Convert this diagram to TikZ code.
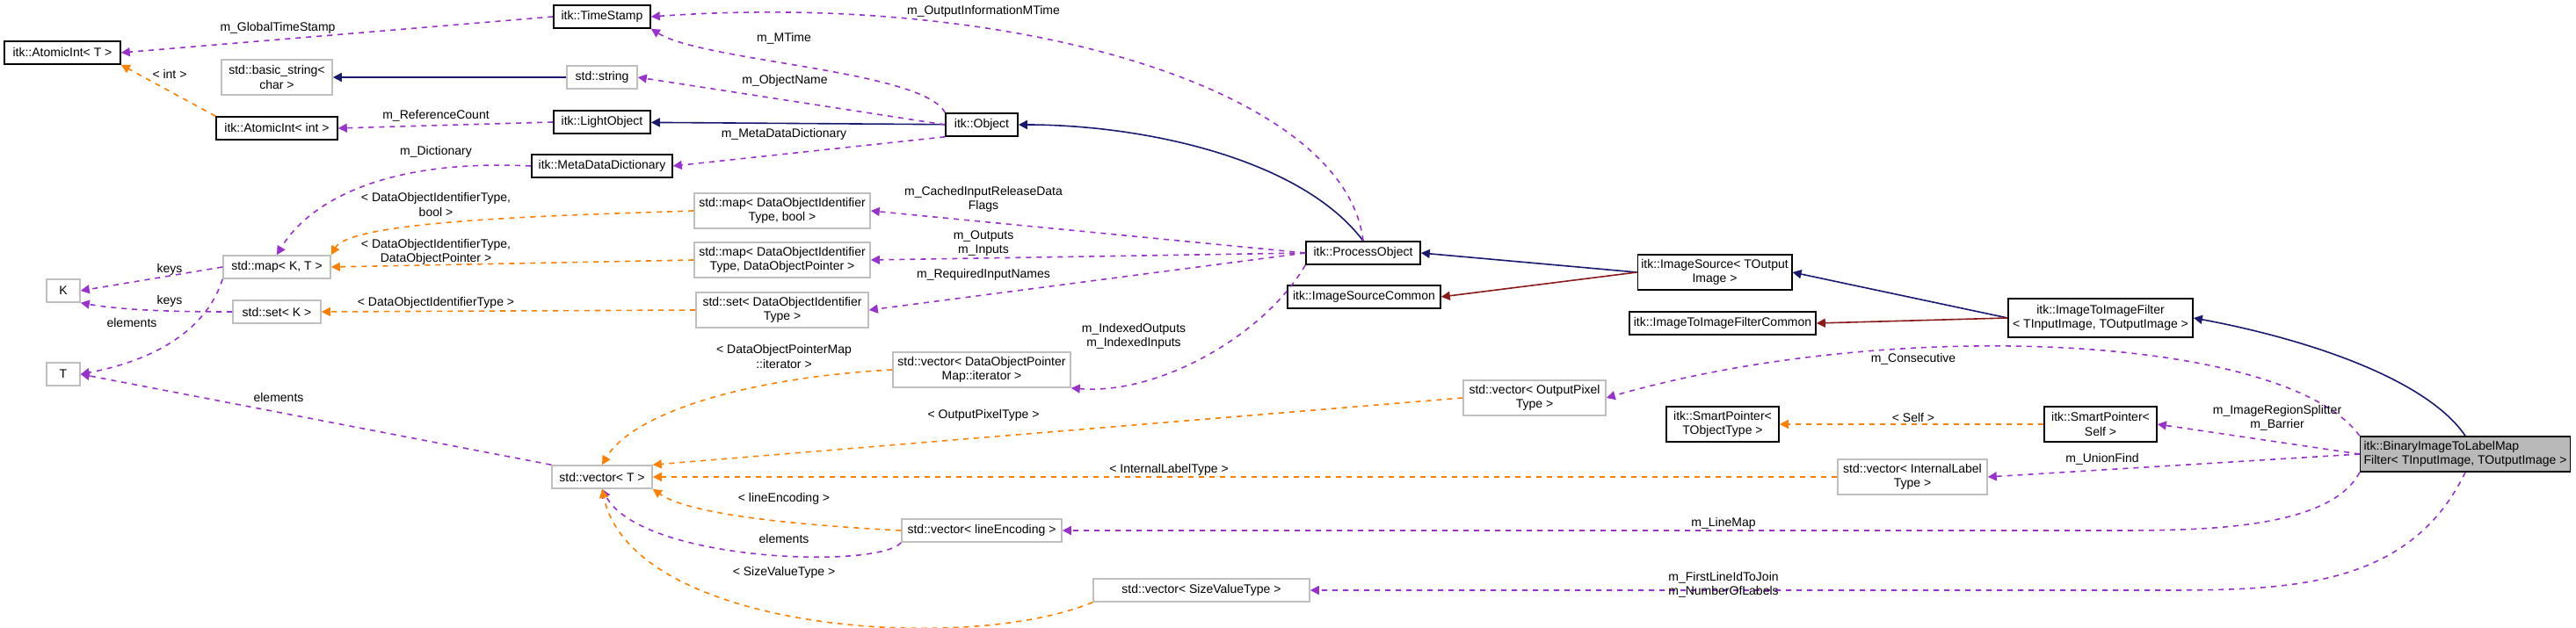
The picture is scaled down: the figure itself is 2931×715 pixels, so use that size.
\documentclass[tikz,border=0pt]{standalone}
\usepackage{fontspec}
\setmainfont{Liberation Sans}
\usetikzlibrary{arrows.meta}
\begin{document}
\begin{tikzpicture}[x=0.5pt,y=-0.5pt,
  every node/.style={font=\fontsize{7}{8.2}\selectfont},
  box/.style={draw=black,thick,fill=white,inner sep=2pt,align=center,minimum height=13pt},
  gbox/.style={draw=gray!50,thick,fill=white,inner sep=2pt,align=center,minimum height=13pt},
  lbl/.style={align=center,inner sep=0pt},
  mem/.style={draw={rgb,255:red,153;green,50;blue,204},dashed,thick,-{Triangle[length=5pt,width=5pt]}},
  tpl/.style={draw=orange,dashed,thick,-{Triangle[length=5pt,width=5pt]}},
  inh/.style={draw={rgb,255:red,25;green,25;blue,112},thick,-{Triangle[length=5pt,width=5pt]}},
  priv/.style={draw={rgb,255:red,139;green,26;blue,26},thick,-{Triangle[length=5pt,width=5pt]}}]
\useasboundingbox (0,0) rectangle (2931,715);
% nodes
\node[box,minimum width=66pt] (ait) at (71,60) {itk::AtomicInt< T >};
\node[box,minimum width=55pt] (ts) at (685,19) {itk::TimeStamp};
\node[gbox,minimum width=63pt,minimum height=20pt] (bs) at (315,88) {std::basic\_string<\\char >};
\node[gbox,minimum width=40pt] (ss) at (685,88) {std::string};
\node[box,minimum width=69pt] (aii) at (315,146) {itk::AtomicInt< int >};
\node[box,minimum width=55pt] (lo) at (685,139) {itk::LightObject};
\node[box,minimum width=80pt] (mdd) at (685,189) {itk::MetaDataDictionary};
\node[box,minimum width=41pt] (obj) at (1117,142) {itk::Object};
\node[box,minimum width=65pt] (po) at (1551,288) {itk::ProcessObject};
\node[box,minimum width=81pt,minimum height=20pt] (isrc) at (1951,310) {itk::ImageSource< TOutput\\Image >};
\node[box,minimum width=87pt] (isc) at (1552,338) {itk::ImageSourceCommon};
\node[box,minimum width=106pt] (itic) at (1960,368) {itk::ImageToImageFilterCommon};
\node[box,minimum width=105pt,minimum height=22pt] (itif) at (2390,362) {itk::ImageToImageFilter\\< TInputImage, TOutputImage >};
\node[gbox,minimum width=61pt] (mapkt) at (315,304) {std::map< K, T >};
\node[gbox,minimum width=19pt] (K) at (72,331) {K};
\node[gbox,minimum width=50pt] (setk) at (315,355) {std::set< K >};
\node[gbox,minimum width=100pt,minimum height=20pt] (mapb) at (890,240) {std::map< DataObjectIdentifier\\Type, bool >};
\node[gbox,minimum width=100pt,minimum height=20pt] (mapd) at (890,296) {std::map< DataObjectIdentifier\\Type, DataObjectPointer >};
\node[gbox,minimum width=98pt,minimum height=20pt] (setd) at (890,353) {std::set< DataObjectIdentifier\\Type >};
\node[gbox,minimum width=19pt] (T) at (72,426) {T};
\node[gbox,minimum width=57pt] (vt) at (685,543) {std::vector< T >};
\node[gbox,minimum width=101pt,minimum height=20pt] (vdop) at (1117,421) {std::vector< DataObjectPointer\\Map::iterator >};
\node[gbox,minimum width=91pt] (vle) at (1117,604) {std::vector< lineEncoding >};
\node[gbox,minimum width=123pt] (vsv) at (1367,672) {std::vector< SizeValueType >};
\node[gbox,minimum width=81pt,minimum height=20pt] (vop) at (1746,453) {std::vector< OutputPixel\\Type >};
\node[box,minimum width=64pt,minimum height=20pt] (spt) at (1960,483) {itk::SmartPointer<\\TObjectType >};
\node[box,minimum width=64pt,minimum height=20pt] (sps) at (2390,483) {itk::SmartPointer<\\Self >};
\node[gbox,minimum width=85pt,minimum height=20pt] (vil) at (2176,543) {std::vector< InternalLabel\\Type >};
\node[box,fill=gray!55,minimum width=119pt,minimum height=20pt,align=left] (bin) at (2805,517) {itk::BinaryImageToLabelMap\\Filter< TInputImage, TOutputImage >};
% inheritance
\draw[inh] (ss) -- (bs);
\draw[inh] (obj) -- (lo);
\draw[inh] (po.north) .. controls (1480,180) and (1300,142) .. (obj.east);
\draw[inh] (isrc.west) -- (po.east);
\draw[inh] (itif.west) -- (isrc.east);
\draw[inh] (bin.north) .. controls (2760,430) and (2620,385) .. (itif.east);
\draw[priv] (isrc.west) -- (isc.east);
\draw[priv] (itif.west) -- (itic.east);
% members
\draw[mem] (ts.west) -- (ait.east) node[lbl,at={(316,32)}] {m\_GlobalTimeStamp};
\draw[mem] (obj.north west) .. controls (1050,80) and (800,70) .. (ts.south east) node[lbl,at={(892,44)}] {m\_MTime};
\draw[mem] (po.north) .. controls (1530,100) and (1150,-10) .. (ts.east) node[lbl,at={(1119,13)}] {m\_OutputInformationMTime};
\draw[mem] (obj.west) -- (ss.east) node[lbl,at={(893,92)}] {m\_ObjectName};
\draw[mem] (lo.west) -- (aii.east) node[lbl,at={(496,132)}] {m\_ReferenceCount};
\draw[mem] (obj.south west) -- (mdd.east) node[lbl,at={(892,153)}] {m\_MetaDataDictionary};
\draw[mem] (mdd.west) .. controls (420,180) and (345,240) .. (mapkt.north) node[lbl,at={(496,173)}] {m\_Dictionary};
\draw[mem] (po.west) -- (mapb.east) node[lbl,at={(1119,227)}] {m\_CachedInputReleaseData\\Flags};
\draw[mem] (po.west) -- (mapd.east) node[lbl,at={(1119,277)}] {m\_Outputs\\m\_Inputs};
\draw[mem] (po.west) -- (setd.east) node[lbl,at={(1119,313)}] {m\_RequiredInputNames};
\draw[mem] (po.south west) .. controls (1440,380) and (1320,450) .. (vdop.south east) node[lbl,at={(1290,383)}] {m\_IndexedOutputs\\m\_IndexedInputs};
\draw[mem] (mapkt.west) -- (K.east) node[lbl,at={(193,307)}] {keys};
\draw[mem] (setk.west) .. controls (230,355) and (150,355) .. (K.south east) node[lbl,at={(193,343)}] {keys};
\draw[mem] (mapkt.south west) .. controls (230,390) and (150,415) .. (T.east) node[lbl,at={(150,367)}] {elements};
\draw[mem] (vt.north west) -- (T.east) node[lbl,at={(317,452)}] {elements};
\draw[mem] (vle.south west) .. controls (1000,648) and (730,640) .. (vt.south) node[lbl,at={(892,613)}] {elements};
\draw[mem] (bin.north west) .. controls (2600,380) and (2150,360) .. (vop.east) node[lbl,at={(2177,409)}] {m\_Consecutive};
\draw[mem] (bin.west) -- (sps.east) node[lbl,at={(2591,476)}] {m\_ImageRegionSplitter\\m\_Barrier};
\draw[mem] (bin.west) -- (vil.east) node[lbl,at={(2392,523)}] {m\_UnionFind};
\coordinate (lm) at (2400,604);
\coordinate (fl) at (2450,672);
\draw[mem] (bin.south west) .. controls (2650,604) and (2500,604) .. (lm) -- (vle.east) node[lbl,at={(1961,596)}] {m\_LineMap};
\draw[mem] (bin.south) .. controls (2740,672) and (2600,672) .. (fl) -- (vsv.east) node[lbl,at={(1961,666)}] {m\_FirstLineIdToJoin\\m\_NumberOfLabels};
% templates
\draw[tpl] (aii.north west) -- (ait.south east) node[lbl,at={(193,84)}] {< int >};
\draw[tpl] (mapb.west) .. controls (650,245) and (400,250) .. (mapkt.north east) node[lbl,at={(496,233)}] {< DataObjectIdentifierType,\\bool >};
\draw[tpl] (mapd.west) -- (mapkt.east) node[lbl,at={(496,287)}] {< DataObjectIdentifierType,\\DataObjectPointer >};
\draw[tpl] (setd.west) -- (setk.east) node[lbl,at={(496,345)}] {< DataObjectIdentifierType >};
\draw[tpl] (vdop.west) .. controls (850,430) and (720,470) .. (vt.north) node[lbl,at={(892,406)}] {< DataObjectPointerMap\\::iterator >};
\draw[tpl] (vop.west) -- (vt.north east) node[lbl,at={(1119,473)}] {< OutputPixelType >};
\draw[tpl] (vil.west) -- (vt.east) node[lbl,at={(1330,535)}] {< InternalLabelType >};
\draw[tpl] (vle.west) .. controls (950,600) and (790,590) .. (vt.south east) node[lbl,at={(892,568)}] {< lineEncoding >};
\draw[tpl] (vsv.south west) .. controls (1100,745) and (720,720) .. (vt.south) node[lbl,at={(892,652)}] {< SizeValueType >};
\draw[tpl] (sps.west) -- (spt.east) node[lbl,at={(2177,475)}] {< Self >};
\end{tikzpicture}
\end{document}
